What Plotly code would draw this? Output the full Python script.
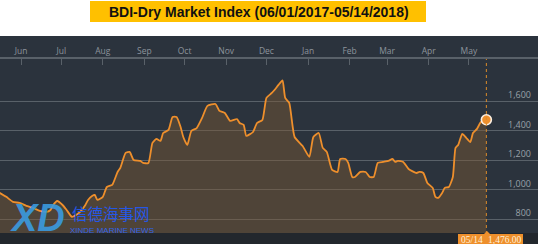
import plotly.graph_objects as go

dates = [
    "2017-05-16", "2017-05-21", "2017-05-26", "2017-05-31", "2017-06-05", "2017-06-10",
    "2017-06-15", "2017-06-20", "2017-06-23", "2017-06-25", "2017-06-28", "2017-07-02",
    "2017-07-05", "2017-07-09", "2017-07-12", "2017-07-15", "2017-07-19", "2017-07-21",
    "2017-07-24", "2017-07-26", "2017-07-28", "2017-08-01", "2017-08-04", "2017-08-08",
    "2017-08-12", "2017-08-14", "2017-08-18", "2017-08-21", "2017-08-24", "2017-08-29",
    "2017-08-31", "2017-09-04", "2017-09-07", "2017-09-10", "2017-09-13", "2017-09-15",
    "2017-09-19", "2017-09-22", "2017-09-25", "2017-09-28", "2017-09-30", "2017-10-03",
    "2017-10-06", "2017-10-10", "2017-10-14", "2017-10-18", "2017-10-24", "2017-10-27",
    "2017-10-31", "2017-11-04", "2017-11-09", "2017-11-11", "2017-11-14", "2017-11-16",
    "2017-11-19", "2017-11-21", "2017-11-24", "2017-11-28", "2017-12-01", "2017-12-05",
    "2017-12-07", "2017-12-10", "2017-12-13", "2017-12-15", "2017-12-18", "2017-12-22",
    "2017-12-28", "2018-01-02", "2018-01-05", "2018-01-09", "2018-01-12", "2018-01-15",
    "2018-01-19", "2018-01-23", "2018-01-25", "2018-01-29", "2018-01-31", "2018-02-03",
    "2018-02-05", "2018-02-09", "2018-02-13", "2018-02-16", "2018-02-19", "2018-02-22",
    "2018-02-26", "2018-03-02", "2018-03-05", "2018-03-07", "2018-03-09", "2018-03-13",
    "2018-03-17", "2018-03-23", "2018-03-25", "2018-03-28", "2018-03-31", "2018-04-04",
    "2018-04-06", "2018-04-08", "2018-04-11", "2018-04-13", "2018-04-16", "2018-04-19",
    "2018-04-21", "2018-04-23", "2018-04-26", "2018-04-29", "2018-05-02", "2018-05-04",
    "2018-05-07", "2018-05-10", "2018-05-12", "2018-05-14",
]
bdi = [
    980, 953, 919, 912, 892, 878,
    858, 851, 864, 898, 925, 898,
    864, 817, 830, 851, 898, 932,
    959, 966, 932, 953, 1020, 1034,
    1122, 1149, 1251, 1258, 1203, 1197,
    1183, 1183, 1319, 1346, 1332, 1386,
    1407, 1495, 1495, 1427, 1359, 1305,
    1400, 1420, 1488, 1570, 1583, 1536,
    1522, 1468, 1481, 1454, 1441, 1366,
    1380, 1393, 1454, 1475, 1624, 1658,
    1678, 1712, 1743, 1624, 1590, 1359,
    1298, 1224, 1359, 1386, 1285, 1258,
    1136, 1122, 1210, 1210, 1183, 1088,
    1088, 1122, 1122, 1088, 1088, 1183,
    1190, 1197, 1210, 1190, 1197, 1190,
    1142, 1115, 1122, 1115, 1047, 1014,
    953, 946, 980, 1014, 1020, 1088,
    1285, 1305, 1380, 1353, 1325, 1386,
    1414, 1461, 1454, 1476,
]
month_ticks = ["2017-06-01", "2017-07-01", "2017-08-01", "2017-09-01", "2017-10-01",
               "2017-11-01", "2017-12-01", "2018-01-01", "2018-02-01", "2018-03-01",
               "2018-04-01", "2018-05-01"]
month_labels = ["Jun", "Jul", "Aug", "Sep", "Oct", "Nov", "Dec", "Jan", "Feb", "Mar", "Apr", "May"]
y_ticks = [800, 1000, 1200, 1400, 1600]
y_labels = ["800", "1,000", "1,200", "1,400", "1,600"]
title_text = "BDI-Dry Market Index (06/01/2017-05/14/2018)"
last_date_label = "05/14"
last_value_label = "1,476.00"

W, H = 538, 244
T, B = 59, 11
PH = H - T - B


def py(p):
    # pixel row -> paper y
    return (H - B - p) / PH


def px(p):
    return p / W


BG = "#2b333d"
ORANGE = "#ee8f2c"
GRID = "#596169"

fig = go.Figure()
fig.add_trace(go.Scatter(
    x=dates, y=bdi, mode="lines",
    line=dict(color=ORANGE, width=1.8, shape="spline", smoothing=0.5),
    fill="tozeroy", fillcolor="rgba(125,88,52,0.45)",
    hoverinfo="skip", showlegend=False,
))
fig.add_trace(go.Scatter(
    x=[dates[-1]], y=[bdi[-1]], mode="markers",
    marker=dict(color=ORANGE, size=10, line=dict(color="#fbeee0", width=1.6)),
    hoverinfo="skip", showlegend=False,
))

shapes = [
    dict(type="rect", xref="paper", yref="paper", x0=0, x1=1, y0=py(36), y1=py(-2),
         fillcolor="white", line=dict(width=0), layer="above"),
    dict(type="rect", xref="paper", yref="paper", x0=px(90), x1=px(426), y0=py(22), y1=py(1),
         fillcolor="#ffc000", line=dict(width=0), layer="above"),
    dict(type="rect", xref="paper", yref="paper", x0=0, x1=1, y0=py(246), y1=py(233),
         fillcolor="#22272d", line=dict(width=0), layer="above"),
    dict(type="line", xref="x", yref="paper", x0=dates[-1], x1=dates[-1], y0=py(234), y1=1,
         line=dict(color="#d98a2a", width=1, dash="dot"), layer="above"),
    dict(type="rect", xref="paper", yref="paper", x0=px(458), x1=px(523), y0=py(245), y1=py(234),
         fillcolor="#ee8f2c", line=dict(width=0), layer="above"),
    dict(type="path", xref="paper", yref="paper",
         path=f"M {px(484)},{py(234)} L {px(487)},{py(231)} L {px(490)},{py(234)} Z",
         fillcolor="#ee8f2c", line=dict(width=0), layer="above"),
]

annotations = [
    dict(text=f"<b>{title_text}</b>", xref="paper", yref="paper", x=px(259), y=py(11.5),
         showarrow=False, font=dict(family="Liberation Sans", size=14, color="#111111"),
         xanchor="center", yanchor="middle"),
    dict(text=last_date_label, xref="paper", yref="paper", x=px(472), y=py(239.5),
         showarrow=False, font=dict(family="Liberation Serif", size=9.5, color="#fff0d8"),
         xanchor="center", yanchor="middle"),
    dict(text=last_value_label, xref="paper", yref="paper", x=px(504.5), y=py(239.5),
         showarrow=False, font=dict(family="Liberation Serif", size=9.5, color="#fff0d8"),
         xanchor="center", yanchor="middle"),
    dict(text="<b><i>XD</i></b>", xref="paper", yref="paper", x=px(37), y=py(218),
         showarrow=False, font=dict(family="Liberation Sans", size=38, color="#3a9be0"),
         xanchor="center", yanchor="middle", opacity=0.9),
    dict(text="信德海事网", xref="paper", yref="paper", x=px(111), y=py(213),
         showarrow=False, font=dict(family="Noto Sans CJK SC", size=15.5, color="#2557e6"),
         xanchor="center", yanchor="middle"),
    dict(text="XINDE MARINE NEWS", xref="paper", yref="paper", x=px(112), y=py(230),
         showarrow=False, font=dict(family="Liberation Sans", size=8, color="#2f63e6"),
         xanchor="center", yanchor="middle"),
]

fig.update_layout(
    width=W, height=H,
    margin=dict(l=0, r=0, t=T, b=B, pad=0),
    paper_bgcolor=BG, plot_bgcolor=BG,
    shapes=shapes, annotations=annotations,
    xaxis=dict(
        type="date", side="top", range=["2017-05-16 08:00", "2018-06-21 12:00"],
        tickvals=month_ticks, ticktext=month_labels,
        ticks="inside", ticklen=6, tickcolor=GRID, tickwidth=1,
        showline=True, linecolor=GRID, linewidth=1.5,
        showgrid=False, zeroline=False, automargin=False,
        tickfont=dict(family="Open Sans", size=8.5, color="#8d949c"),
    ),
    yaxis=dict(
        range=[708, 1888], side="right",
        tickvals=y_ticks, ticktext=y_labels,
        ticklabelposition="inside top", ticks="",
        showgrid=True, gridcolor=GRID, gridwidth=1.3,
        zeroline=False, showline=False, automargin=False,
        tickfont=dict(family="Open Sans", size=9, color="#9aa1a8"),
        ticklabelstandoff=4,
    ),
)

fig.write_html("out.html")
